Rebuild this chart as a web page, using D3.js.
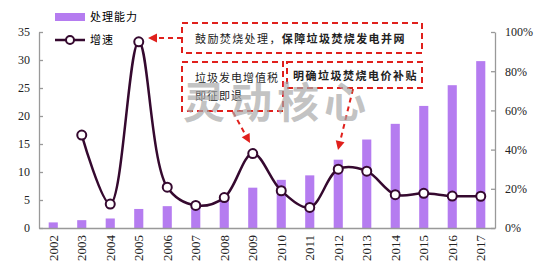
<!DOCTYPE html>
<html>
<head>
<meta charset="utf-8">
<script src="https://cdn.jsdelivr.net/npm/d3@7"></script>
<style>
  body { margin: 0; background: #fff; }
  .num { font-family: 'Liberation Serif', 'Times New Roman', serif; }
  .cn { font-family: 'Noto Sans CJK SC', sans-serif; }
</style>
</head>
<body>
<div id="chart"></div>
<script>
// data
var years = ["2002","2003","2004","2005","2006","2007","2008","2009","2010","2011","2012","2013","2014","2015","2016","2017"];
var capacity = [1.0, 1.4, 1.7, 3.4, 3.9, 4.4, 5.5, 7.2, 8.6, 9.4, 12.2, 15.8, 18.6, 21.8, 25.5, 29.8];
var growth = [null, 47.4, 12.2, 95, 20.8, 11.5, 15.5, 38, 19, 10.5, 30, 29, 17, 17.7, 16.3, 16.2];
var leftTicks = [0, 5, 10, 15, 20, 25, 30, 35];
var rightTicks = [0, 20, 40, 60, 80, 100];

var width = 545, height = 273;
var margin = {top: 32, right: 50, bottom: 45, left: 39};
var barColor = "#b57cf0", lineColor = "#35092f", red = "#e0201c", axisColor = "#999";

var svg = d3.select("#chart").append("svg")
    .attr("width", width)
    .attr("height", height);

var x = d3.scaleBand()
    .domain(years)
    .range([margin.left, width - margin.right])
    .paddingInner(0.68)
    .paddingOuter(0.34);

var y = d3.scaleLinear()
    .domain([0, 35])
    .range([height - margin.bottom, margin.top]);

var y2 = d3.scaleLinear()
    .domain([0, 100])
    .range([height - margin.bottom, margin.top]);

// bars
svg.selectAll(".bar")
    .data(capacity)
    .enter().append("rect")
    .attr("class", "bar")
    .attr("x", function(d, i) { return x(years[i]); })
    .attr("y", function(d) { return y(d); })
    .attr("width", x.bandwidth())
    .attr("height", function(d) { return y(0) - y(d); })
    .attr("fill", barColor);

// axes
var leftAxis = d3.axisLeft(y).tickValues(leftTicks).tickSizeInner(-4).tickSizeOuter(0).tickPadding(9);
var gl = svg.append("g")
    .attr("transform", "translate(" + margin.left + ",0)")
    .call(leftAxis);

var rightAxis = d3.axisRight(y2).tickValues(rightTicks).tickSizeInner(-4).tickSizeOuter(0).tickPadding(10)
    .tickFormat(function(d) { return d + "%"; });
var gr = svg.append("g")
    .attr("transform", "translate(" + (width - margin.right) + ",0)")
    .call(rightAxis);

var bottomAxis = d3.axisBottom(x).tickSize(0).tickPadding(6);
var gb = svg.append("g")
    .attr("transform", "translate(0," + (height - margin.bottom) + ")")
    .call(bottomAxis);

[gl, gr, gb].forEach(function(g) {
    g.attr("font-family", null);
    g.select(".domain").attr("stroke", axisColor).attr("stroke-width", 1.3);
    g.selectAll(".tick line").attr("stroke", axisColor).attr("stroke-width", 1.3);
    g.selectAll("text").attr("class", "num").attr("fill", "#222").attr("font-size", 12);
});

gb.selectAll("text")
    .attr("transform", "rotate(-90)")
    .attr("text-anchor", "end")
    .attr("x", -7)
    .attr("y", 0)
    .attr("dy", "0.35em")
    .attr("font-size", 13);

// growth line
var line = d3.line()
    .defined(function(d) { return d != null; })
    .x(function(d, i) { return x(years[i]) + x.bandwidth() / 2; })
    .y(function(d) { return y2(d); })
    .curve(d3.curveCatmullRom.alpha(0.5));

svg.append("path")
    .datum(growth)
    .attr("d", line)
    .attr("fill", "none")
    .attr("stroke", lineColor)
    .attr("stroke-width", 2.5);

var pts = growth.map(function(d, i) { return {year: years[i], value: d}; })
    .filter(function(d) { return d.value != null; });

svg.selectAll(".dot")
    .data(pts)
    .enter().append("circle")
    .attr("class", "dot")
    .attr("cx", function(d) { return x(d.year) + x.bandwidth() / 2; })
    .attr("cy", function(d) { return y2(d.value); })
    .attr("r", 4.5)
    .attr("fill", "#fff")
    .attr("stroke", lineColor)
    .attr("stroke-width", 2);

// legend
svg.append("rect")
    .attr("x", 55).attr("y", 13).attr("width", 30).attr("height", 8)
    .attr("fill", barColor);
svg.append("text").attr("class", "cn")
    .attr("x", 90).attr("y", 21)
    .style("font-size", "11px").style("letter-spacing", "1px")
    .text("处理能力");
svg.append("line")
    .attr("x1", 55).attr("x2", 85).attr("y1", 40).attr("y2", 40)
    .attr("stroke", lineColor).attr("stroke-width", 2.5);
svg.append("circle")
    .attr("cx", 70).attr("cy", 40).attr("r", 4)
    .attr("fill", "#fff").attr("stroke", lineColor).attr("stroke-width", 2);
svg.append("text").attr("class", "cn")
    .attr("x", 90).attr("y", 44)
    .style("font-size", "11px").style("letter-spacing", "1px")
    .text("增速");

// annotation boxes
var dash = "6,4";
function box(x0, y0, w, h) {
    svg.append("rect")
        .attr("x", x0).attr("y", y0).attr("width", w).attr("height", h)
        .attr("fill", "#fff").attr("fill-opacity", 0.85)
        .attr("stroke", red).attr("stroke-width", 2)
        .attr("stroke-dasharray", dash);
}
function arrow(x1, y1, x2, y2) {
    var a = Math.atan2(y2 - y1, x2 - x1), len = 9, half = 4.5;
    var bx = x2 - len * Math.cos(a), by = y2 - len * Math.sin(a);
    svg.append("line")
        .attr("x1", x1).attr("y1", y1).attr("x2", bx).attr("y2", by)
        .attr("stroke", red).attr("stroke-width", 2)
        .attr("stroke-dasharray", "5,4");
    svg.append("path")
        .attr("d", "M" + x2 + "," + y2 +
            "L" + (bx + half * Math.sin(a)) + "," + (by - half * Math.cos(a)) +
            "L" + (bx - half * Math.sin(a)) + "," + (by + half * Math.cos(a)) + "Z")
        .attr("fill", red);
}

box(182, 23, 240, 30);
box(182, 62, 101, 49);
box(287, 62, 135, 26);

var t1 = svg.append("text").attr("class", "cn")
    .attr("x", 195).attr("y", 43)
    .style("font-size", "11px").style("letter-spacing", "1.4px")
    .attr("fill", "#222");
t1.append("tspan").text("鼓励焚烧处理，");
t1.append("tspan").style("font-weight", "bold").text("保障垃圾焚烧发电并网");

svg.append("text").attr("class", "cn")
    .attr("x", 195).attr("y", 82)
    .style("font-size", "11px").style("letter-spacing", "1px")
    .attr("fill", "#222")
    .text("垃圾发电增值税");
svg.append("text").attr("class", "cn")
    .attr("x", 195).attr("y", 100)
    .style("font-size", "11px").style("letter-spacing", "1px")
    .attr("fill", "#222")
    .text("即征即退");
svg.append("text").attr("class", "cn")
    .attr("x", 293).attr("y", 80)
    .style("font-size", "11px").style("letter-spacing", "1.5px")
    .style("font-weight", "bold")
    .attr("fill", "#222")
    .text("明确垃圾焚烧电价补贴");

arrow(182, 38, 148, 38);
arrow(233, 112, 250, 143);
arrow(353, 89, 338, 150);

// watermark
svg.append("text").attr("class", "cn")
    .attr("x", 183).attr("y", 118)
    .style("font-size", "42px").style("font-weight", "bold")
    .style("letter-spacing", "5px")
    .attr("fill", "#a8a8a8").attr("fill-opacity", 0.7)
    .text("灵动核心");
</script>
</body>
</html>
